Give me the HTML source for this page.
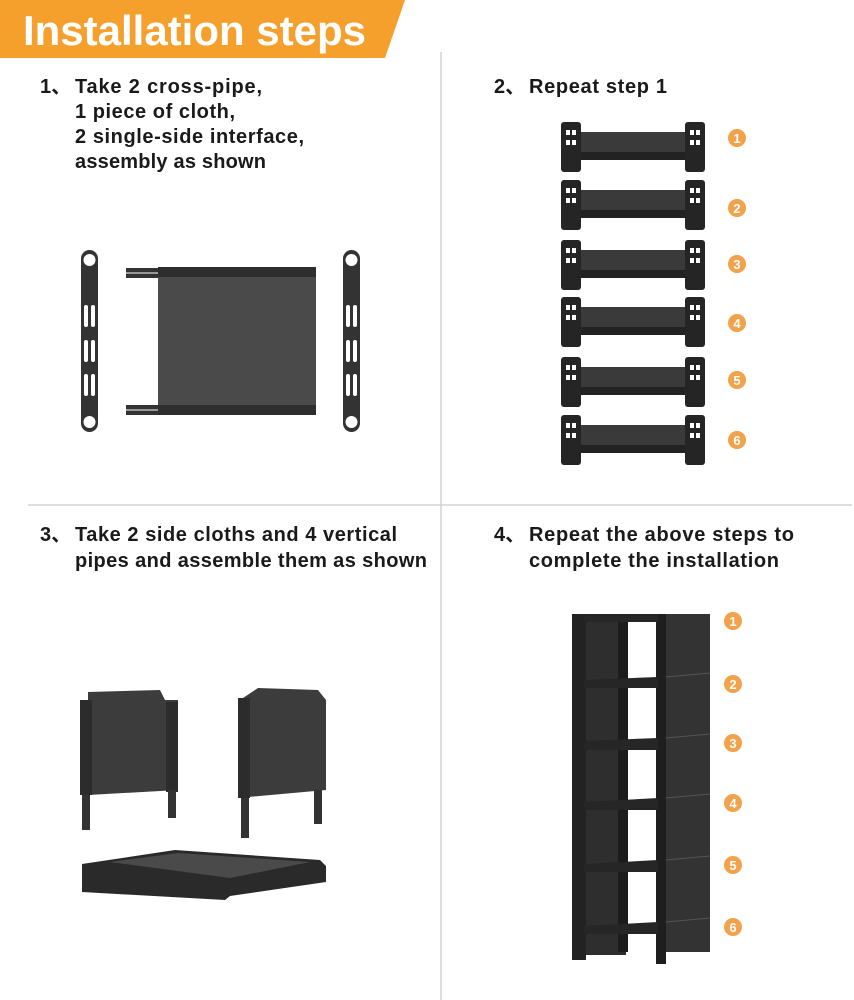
<!DOCTYPE html>
<html><head><meta charset="utf-8"><style>
html,body{margin:0;padding:0;background:#fff;}
svg{display:block;}
text{font-family:"Liberation Sans","Noto Sans CJK SC",sans-serif;font-weight:bold;fill:#1a1a1a;}
.n{fill:#fff;font-size:13px;}
</style></head><body>
<svg width="854" height="1000" viewBox="0 0 854 1000" xmlns="http://www.w3.org/2000/svg">
<defs>
<g id="shelf">
  <rect x="12" y="10" width="120" height="26" fill="#3a3a3a"/>
  <rect x="12" y="30" width="120" height="8" fill="#222"/>
  <rect x="0" y="0" width="20" height="50" rx="3" fill="#252525"/>
  <rect x="124" y="0" width="20" height="50" rx="3" fill="#252525"/>
  <rect x="5" y="8" width="4" height="5" fill="#fff"/><rect x="11" y="8" width="4" height="5" fill="#fff"/>
  <rect x="5" y="18" width="4" height="5" fill="#fff"/><rect x="11" y="18" width="4" height="5" fill="#fff"/>
  <rect x="129" y="8" width="4" height="5" fill="#fff"/><rect x="135" y="8" width="4" height="5" fill="#fff"/>
  <rect x="129" y="18" width="4" height="5" fill="#fff"/><rect x="135" y="18" width="4" height="5" fill="#fff"/>
</g>
<g id="bar">
  <rect x="0" y="0" width="17" height="182" rx="8.5" fill="#333"/>
  <circle cx="8.5" cy="10" r="6" fill="#fff"/><circle cx="8.5" cy="172" r="6" fill="#fff"/>
  <rect x="3" y="55" width="4" height="22" rx="2" fill="#fff"/><rect x="10" y="55" width="4" height="22" rx="2" fill="#fff"/>
  <rect x="3" y="90" width="4" height="22" rx="2" fill="#fff"/><rect x="10" y="90" width="4" height="22" rx="2" fill="#fff"/>
  <rect x="3" y="124" width="4" height="22" rx="2" fill="#fff"/><rect x="10" y="124" width="4" height="22" rx="2" fill="#fff"/>
</g>
</defs>
<!-- header -->
<polygon points="0,0 405,0 385,58 0,58" fill="#f5a02c"/>
<text x="23" y="45" font-size="42" style="fill:#fff" textLength="343">Installation steps</text>
<!-- dividers -->
<line x1="441" y1="52" x2="441" y2="1000" stroke="#d4d4d4" stroke-width="1.5"/>
<line x1="28" y1="505" x2="852" y2="505" stroke="#d4d4d4" stroke-width="1.5"/>
<!-- step texts -->
<g font-size="20">
<text x="40" y="93">1、</text>
<text x="75" y="93" textLength="187">Take 2 cross-pipe,</text>
<text x="75" y="118" textLength="160">1 piece of cloth,</text>
<text x="75" y="143" textLength="229">2 single-side interface,</text>
<text x="75" y="168" textLength="191">assembly as shown</text>
<text x="494" y="93">2、</text>
<text x="529" y="93" textLength="138">Repeat step 1</text>
<text x="40" y="541">3、</text>
<text x="75" y="541" textLength="322">Take 2 side cloths and 4 vertical</text>
<text x="75" y="567" textLength="352">pipes and assemble them as shown</text>
<text x="494" y="541">4、</text>
<text x="529" y="541" textLength="265">Repeat the above steps to</text>
<text x="529" y="567" textLength="250">complete the installation</text>
</g>
<!-- step 1 drawing -->
<use href="#bar" x="81" y="250"/>
<use href="#bar" x="343" y="250"/>
<rect x="126" y="268" width="34" height="10" fill="#333"/><rect x="126" y="272" width="34" height="2" fill="#999"/>
<rect x="126" y="405" width="34" height="10" fill="#333"/><rect x="126" y="409" width="34" height="2" fill="#999"/>
<rect x="158" y="267" width="158" height="148" fill="#4a4a4a"/>
<rect x="158" y="267" width="158" height="10" fill="#2e2e2e"/>
<rect x="158" y="405" width="158" height="10" fill="#2e2e2e"/>
<!-- step 2 shelves -->
<use href="#shelf" x="561" y="122"/>
<use href="#shelf" x="561" y="180"/>
<use href="#shelf" x="561" y="240"/>
<use href="#shelf" x="561" y="297"/>
<use href="#shelf" x="561" y="357"/>
<use href="#shelf" x="561" y="415"/>
<g fill="#f2a24a">
<circle cx="737" cy="138" r="9"/><circle cx="737" cy="208" r="9"/><circle cx="737" cy="264" r="9"/>
<circle cx="737" cy="323" r="9"/><circle cx="737" cy="380" r="9"/><circle cx="737" cy="440" r="9"/>
<circle cx="733" cy="621" r="9"/><circle cx="733" cy="684" r="9"/><circle cx="733" cy="743" r="9"/>
<circle cx="733" cy="803" r="9"/><circle cx="733" cy="865" r="9"/><circle cx="733" cy="927" r="9"/>
</g>
<g class="n" text-anchor="middle">
<text class="n" x="737" y="143" text-anchor="middle">1</text><text class="n" x="737" y="213" text-anchor="middle">2</text>
<text class="n" x="737" y="269" text-anchor="middle">3</text><text class="n" x="737" y="328" text-anchor="middle">4</text>
<text class="n" x="737" y="385" text-anchor="middle">5</text><text class="n" x="737" y="445" text-anchor="middle">6</text>
<text class="n" x="733" y="626" text-anchor="middle">1</text><text class="n" x="733" y="689" text-anchor="middle">2</text>
<text class="n" x="733" y="748" text-anchor="middle">3</text><text class="n" x="733" y="808" text-anchor="middle">4</text>
<text class="n" x="733" y="870" text-anchor="middle">5</text><text class="n" x="733" y="932" text-anchor="middle">6</text>
</g>
<!-- step 3 -->
<path d="M88,692 L160,690 L165,700 L178,700 L178,790 L88,795 Z" fill="#3c3c3c"/>
<rect x="80" y="700" width="12" height="95" fill="#2c2c2c"/>
<rect x="166" y="702" width="12" height="90" fill="#2c2c2c"/>
<rect x="82" y="795" width="8" height="35" fill="#333"/>
<rect x="168" y="790" width="8" height="28" fill="#333"/>
<path d="M258,688 L318,690 L326,700 L326,790 L248,797 L240,700 Z" fill="#3c3c3c"/>
<rect x="238" y="698" width="12" height="100" fill="#2c2c2c"/>
<rect x="241" y="798" width="8" height="40" fill="#333"/>
<rect x="314" y="790" width="8" height="34" fill="#333"/>
<path d="M82,864 L175,850 L320,860 L326,866 L326,882 L230,896 L225,900 L82,892 Z" fill="#2a2a2a"/>
<path d="M110,862 L178,853 L310,862 L230,878 Z" fill="#4a4a4a"/>
<!-- step 4 tower -->
<rect x="572" y="614" width="14" height="346" fill="#222"/>
<rect x="586" y="620" width="40" height="335" fill="#2e2e2e"/>
<rect x="626" y="620" width="32" height="335" fill="#fff"/>
<rect x="618" y="622" width="10" height="330" fill="#1c1c1c"/>
<rect x="656" y="614" width="10" height="350" fill="#1e1e1e"/>
<rect x="666" y="614" width="44" height="338" fill="#333"/>
<g fill="#262626">
<rect x="584" y="614" width="74" height="8"/>
<polygon points="584,680 658,677 658,688 584,688"/>
<polygon points="584,741 658,738 658,750 584,750"/>
<polygon points="584,802 658,798 658,810 584,810"/>
<polygon points="584,864 658,860 658,872 584,872"/>
<polygon points="584,926 658,922 658,934 584,934"/>
</g>
<g stroke="#555" stroke-width="1">
<line x1="666" y1="677" x2="710" y2="673"/><line x1="666" y1="738" x2="710" y2="734"/>
<line x1="666" y1="798" x2="710" y2="794"/><line x1="666" y1="860" x2="710" y2="856"/>
<line x1="666" y1="922" x2="710" y2="918"/>
</g>
</svg>
</body></html>
